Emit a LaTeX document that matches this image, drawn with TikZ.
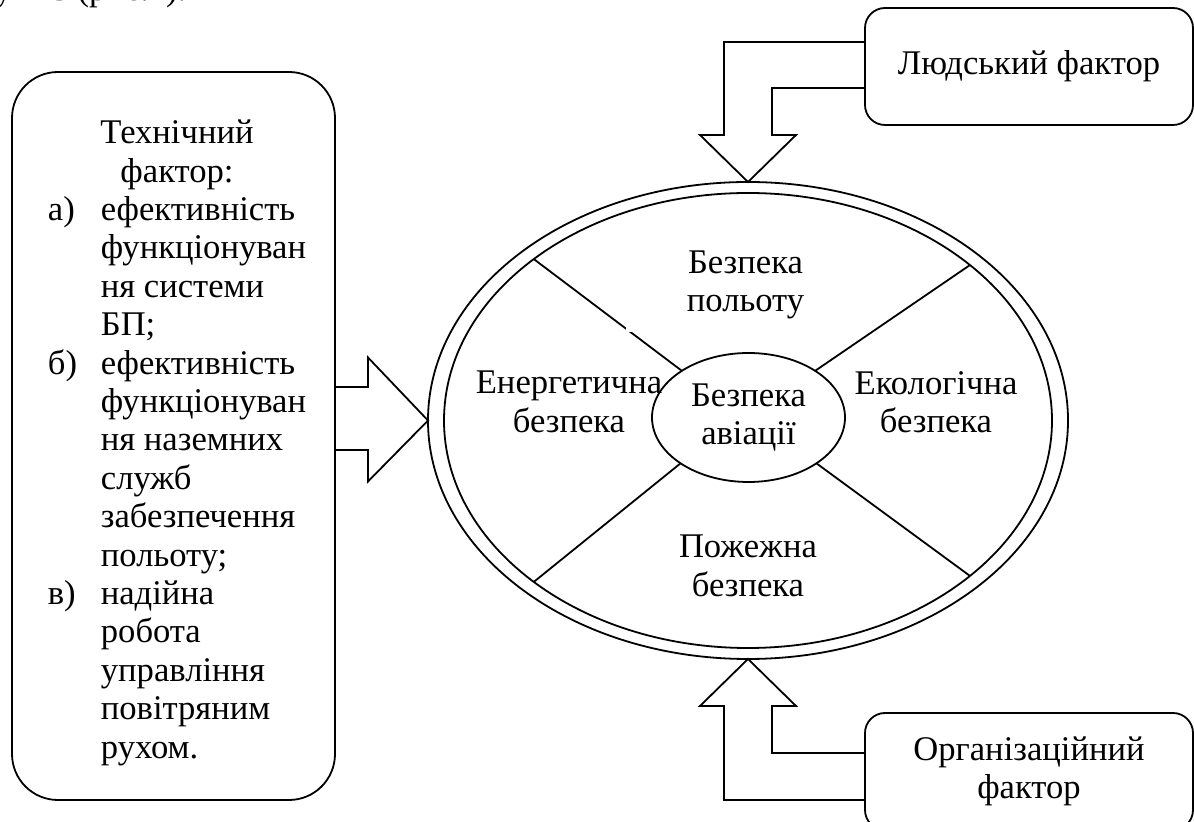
\documentclass[tikz,border=0pt]{standalone}
\usepackage{fontspec}
\setmainfont{Liberation Serif}
\usetikzlibrary{calc,shapes.geometric}

\begin{document}
\begin{tikzpicture}[x=0.5pt,y=-0.5pt,line width=0.9pt,font=\fontsize{17.3}{19.2}\selectfont,
  factorbox/.style={draw,rounded corners=10pt,minimum width=164pt,minimum height=58.5pt,align=center},
  zone/.style={draw,ellipse,inner sep=0pt,outer sep=0pt},
  zonelabel/.style={align=center,inner sep=0pt},
  blockarrow/.style={draw,line join=miter}]
\useasboundingbox (0,0) rectangle (1194,822);
\clip (0,0) rectangle (1194,822);
\node[anchor=base west,inner sep=0pt] (prev) at (-6,1) {у НС (рис.1).};
\node[draw,rounded corners=23pt,minimum width=161.5pt,minimum height=364pt] (tech) at (173.5,436) {};
\node[anchor=north west,inner sep=0pt] (techtext) at (47,116) {\begin{tabular}{@{}p{26.5pt}@{}l@{}}
\multicolumn{2}{@{}c@{}}{Технічний}\\
\multicolumn{2}{@{}c@{}}{фактор:}\\
а) & ефективність\\
 & функціонуван\\
 & ня системи\\
 & БП;\\
б) & ефективність\\
 & функціонуван\\
 & ня наземних\\
 & служб\\
 & забезпечення\\
 & польоту;\\
в) & надійна\\
 & робота\\
 & управління\\
 & повітряним\\
 & рухом.
\end{tabular}};
\node[factorbox] (human) at (1029,66.5) {Людський фактор};
\node[factorbox] (org) at (1029,771.5) {Організаційний\\фактор};
\node[zone,minimum width=320pt,minimum height=238.5pt] (ring) at (748,420.5) {};
\node[zone,minimum width=304pt,minimum height=227.5pt] (inner) at (748,420.5) {};
\node[zone,minimum width=96.5pt,minimum height=64.5pt,align=center] (core) at (748.5,417.5) {Безпека\\авіації};
\draw (inner.143) -- (core.145);
\draw (inner.35) -- (core.35);
\draw (inner.217) -- (core.214);
\draw (inner.325) -- (core.326);
\node[zonelabel,fill=white,minimum width=119.5pt,minimum height=47.5pt] (flight) at (745.5,285) {Безпека\\польоту};
\node[zonelabel] (energy) at (569,402) {Енергетична\\безпека};
\node[zonelabel] (eco) at (936,402) {Екологічна\\безпека};
\node[zonelabel] (fire) at (748,566) {Пожежна\\безпека};
\draw[blockarrow] ($(human.west)+(0,-24.5)$) -| ($(ring.north)+(-24,-47)$) -- ++(-24,0) -- (ring.north) -- ($(ring.north)+(48,-47)$) -- ++(-24,0) |- ($(human.west)+(0,21.5)$);
\draw[blockarrow] ($(tech.east)+(0,-49)$) -| ($(ring.west)+(-60,-63)$) -- (ring.west) -- ($(ring.west)+(-60,61)$) |- ($(tech.east)+(0,14)$);
\draw[blockarrow] ($(org.west)+(0,28.5)$) -| ($(ring.south)+(-24,47)$) -- ++(-24,0) -- (ring.south) -- ($(ring.south)+(48,47)$) -- ++(-24,0) |- ($(org.west)+(0,-18.5)$);
\end{tikzpicture}
\end{document}
